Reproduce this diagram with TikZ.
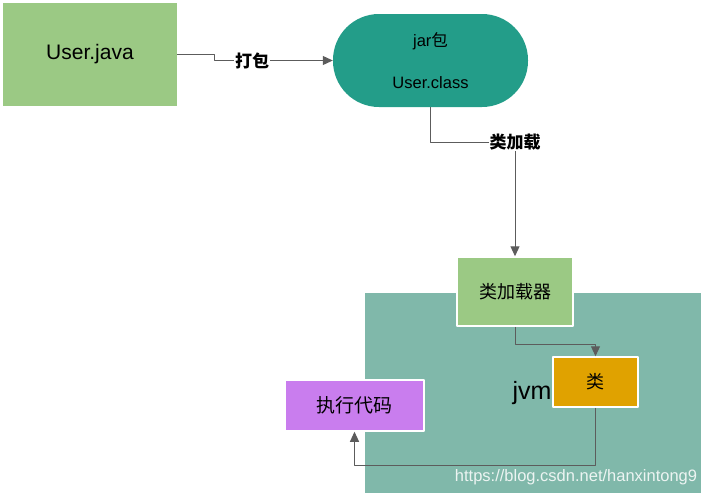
\documentclass[tikz,border=0pt]{standalone}
\usepackage{fontspec}
\setmainfont{Liberation Sans}
\newfontfamily\cjk{Noto Sans CJK SC}
\usetikzlibrary{arrows.meta}
\definecolor{srcgreen}{RGB}{155,201,132}
\definecolor{jarteal}{RGB}{35,157,137}
\definecolor{jvmbg}{RGB}{128,184,170}
\definecolor{clsgold}{RGB}{224,162,0}
\definecolor{execpurple}{RGB}{201,125,238}
\definecolor{linegray}{RGB}{92,92,92}
\tikzset{
	box/.style={draw=white, line width=1.5pt, inner sep=0pt},
	conn/.style={draw=linegray, line width=1pt, -{Triangle[width=9pt,length=10pt]}},
	lbl/.style={fill=white, inner sep=1pt, font=\cjk\bfseries\fontsize{17}{20}\selectfont}
}
\begin{document}
\begin{tikzpicture}[x=1pt, y=-1pt, line join=round]
			
			\useasboundingbox (0,0) rectangle (703,496);
			
			% jvm area
			\fill[jvmbg] (365,293) rectangle (701,493);
			\node[font=\fontsize{25}{30}\selectfont] (jvm) at (532,393) {jvm};
			\node[text=white!85!jvmbg, font=\fontsize{16.5}{20}\selectfont] (mark) at (576,477) {https://blog.csdn.net/hanxintong9};
			
			\node[fill=srcgreen, minimum width=174pt, minimum height=103pt, inner sep=0pt, font=\fontsize{21}{25}\selectfont] (user) at (90,54.5) {User.java};
			\node[fill=jarteal, rounded corners=46pt, minimum width=195pt, minimum height=93pt, inner sep=0pt, align=center, font=\fontsize{16.5}{20}\selectfont] (jar) at (430.5,60.5) {jar{\cjk 包}\\[22pt]User.class};
			
			\node[box, fill=srcgreen, minimum width=116pt, minimum height=69pt, font=\cjk\fontsize{18}{22}\selectfont] (loader) at (515,291.5) {类加载器};
			\node[box, fill=clsgold, minimum width=85pt, minimum height=50pt, font=\cjk\fontsize{18}{22}\selectfont] (cls) at (595.5,382) {类};
			\node[box, fill=execpurple, minimum width=139pt, minimum height=51pt, font=\cjk\fontsize{19}{22}\selectfont] (exec) at (354.5,405.5) {执行代码};
			
			\draw[conn] (user.east) -- ++(37,0) |- node[lbl, pos=0.66] {打包} (jar.west);
			\draw[conn] (jar.south) -- ++(0,35) -| node[lbl, pos=0.5] {类加载} (loader.north);
			\draw[conn] (loader.south) -- ++(0,18) -| (cls.north);
			\draw[conn] (cls.south) -- ++(0,58) -| (exec.south);
	\end{tikzpicture}
\end{document}
